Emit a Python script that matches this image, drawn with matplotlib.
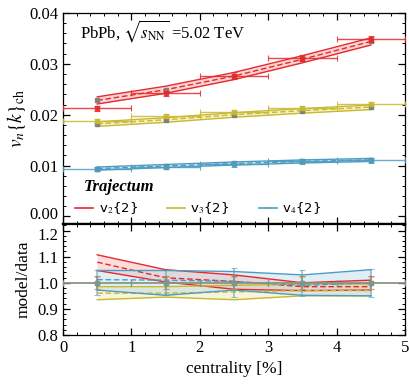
import matplotlib
matplotlib.use("Agg")
import matplotlib.pyplot as plt
import matplotlib.transforms as mtransforms
from matplotlib.ticker import MultipleLocator
from matplotlib.lines import Line2D

plt.rcParams['font.family'] = ['Liberation Serif', 'DejaVu Serif']
plt.rcParams['mathtext.fontset'] = 'stix'

# ---- data ----
cent = [0.5, 1.5, 2.5, 3.5, 4.5]
cent_halfwidth = [0.5, 0.5, 0.5, 0.5, 0.5]

v2_data = [0.0213, 0.0242, 0.0277, 0.0312, 0.0348]
v2_err = [0.0005, 0.0005, 0.0006, 0.0006, 0.0006]
v2_model = [0.0228, 0.0249, 0.0276, 0.0309, 0.0344]
v2_lo = [0.0221, 0.0242, 0.0269, 0.0302, 0.0337]
v2_hi = [0.0235, 0.0256, 0.0283, 0.0316, 0.0351]

v3_data = [0.0187, 0.0198, 0.0205, 0.0214, 0.0221]
v3_err = [0.0004, 0.0004, 0.0004, 0.0004, 0.0004]
v3_model = [0.0182, 0.0190, 0.0200, 0.0208, 0.0215]
v3_lo = [0.0177, 0.0185, 0.0195, 0.0203, 0.0210]
v3_hi = [0.0186, 0.0194, 0.0204, 0.0212, 0.0219]

v4_data = [0.0094, 0.0097, 0.0103, 0.0108, 0.0110]
v4_err = [0.0004, 0.0004, 0.0005, 0.0005, 0.0005]
v4_model = [0.0094, 0.0099, 0.0104, 0.0108, 0.0111]
v4_lo = [0.0091, 0.0096, 0.0101, 0.0105, 0.0108]
v4_hi = [0.0097, 0.0102, 0.0107, 0.0111, 0.0114]

r2_mid = [1.079, 1.019, 1.005, 0.985, 0.985]
r2_hi = [1.107, 1.050, 1.030, 1.000, 1.010]
r2_lo = [1.047, 1.003, 0.975, 0.970, 0.972]
r2_derr = [0.025, 0.025, 0.025, 0.025, 0.025]

r3_mid = [0.960, 0.960, 0.965, 0.970, 0.970]
r3_hi = [0.985, 0.985, 0.990, 0.995, 0.995]
r3_lo = [0.935, 0.945, 0.935, 0.950, 0.950]
r3_derr = [0.022, 0.022, 0.022, 0.022, 0.022]

r4_mid = [1.012, 1.010, 1.005, 0.990, 1.000]
r4_hi = [1.047, 1.047, 1.043, 1.030, 1.050]
r4_lo = [0.972, 0.952, 0.972, 0.952, 0.950]
r4_derr = [0.048, 0.048, 0.056, 0.050, 0.053]

labels = [r'v$_2${2}', r'v$_3${2}', r'v$_4${2}']
colors = ['#E8282B', '#C8B92E', '#4E9CC2']
fills = ['#F4A0A0', '#EAE29A', '#A8D0E4']

fig = plt.figure(figsize=(4.10, 3.84), dpi=100)
ax1 = fig.add_axes([0.1537, 0.4167, 0.8341, 0.5495])
ax2 = fig.add_axes([0.1537, 0.1276, 0.8341, 0.2891])

top_sets = [(v2_data, v2_err, v2_model, v2_lo, v2_hi),
            (v3_data, v3_err, v3_model, v3_lo, v3_hi),
            (v4_data, v4_err, v4_model, v4_lo, v4_hi)]
for (d, e, m, lo, hi), c, f in zip(top_sets, colors, fills):
    ax1.fill_between(cent, lo, hi, color=f, alpha=0.45, lw=0, zorder=1)
    ax1.plot(cent, lo, color=c, lw=1.0, zorder=2)
    ax1.plot(cent, hi, color=c, lw=1.0, zorder=2)
    ax1.plot(cent, m, color=c, lw=1.0, ls=(0, (4, 2)), zorder=2)
    ax1.errorbar(cent, m, yerr=[0.0002]*5, fmt='s', ms=2.5, color='#808080',
                 ecolor='#808080', elinewidth=0.8, capsize=1.5, zorder=3)
    ax1.errorbar(cent, d, xerr=cent_halfwidth, yerr=e, fmt='s', ms=3,
                 color=c, ecolor=c, elinewidth=1.0, capsize=2, capthick=0.8,
                 alpha=0.85, zorder=4)

ax1.set_xlim(0, 5)
ax1.set_ylim(-0.0015, 0.04)
ax1.yaxis.set_major_locator(MultipleLocator(0.01))
ax1.yaxis.set_minor_locator(MultipleLocator(0.002))
ax1.set_yticks([0.0, 0.01, 0.02, 0.03, 0.04])
ax1.set_yticklabels(['0.00', '0.01', '0.02', '0.03', '0.04'])
ax1.set_ylabel(r'$v_n\{k\}_{\rm ch}$', fontsize=14, labelpad=1)

ax1.text(0.05, 0.915, r'PbPb, $\sqrt{s_{\rm NN}}$ =5.02 TeV', transform=ax1.transAxes,
         fontsize=12, va='center', ha='left')
ax1.text(0.06, 0.175, 'Trajectum', transform=ax1.transAxes, fontsize=12,
         fontweight='bold', fontstyle='italic', va='center', ha='left')

handles = [Line2D([0], [0], color=c, lw=1.2) for c in colors]
leg = ax1.legend(handles, labels, loc='lower left', bbox_to_anchor=(0.0, -0.02),
                 ncol=3, frameon=False, handlelength=1.4,
                 handletextpad=0.4, columnspacing=2.2,
                 prop={'family': 'DejaVu Sans', 'size': 9.5})

ratio_sets = [(r2_mid, r2_lo, r2_hi, r2_derr),
              (r3_mid, r3_lo, r3_hi, r3_derr),
              (r4_mid, r4_lo, r4_hi, r4_derr)]
for (m, lo, hi, de), c, f in zip(ratio_sets, colors, fills):
    ax2.fill_between(cent, lo, hi, color=f, alpha=0.35, lw=0, zorder=1)
    ax2.plot(cent, lo, color=c, lw=1.0, zorder=2)
    ax2.plot(cent, hi, color=c, lw=1.0, zorder=2)
    ax2.plot(cent, m, color=c, lw=1.0, ls=(0, (4, 2)), zorder=2)
for (m, lo, hi, de), c in zip(ratio_sets, colors):
    ax2.errorbar(cent, [1.0]*5, xerr=cent_halfwidth, yerr=de, fmt='s', ms=3,
                 color=c, ecolor=c, elinewidth=1.2, capsize=2, capthick=0.8,
                 alpha=0.6, zorder=4)

ax2.set_xlim(0, 5)
ax2.set_ylim(0.8, 1.225)
ax2.set_yticks([0.8, 0.9, 1.0, 1.1, 1.2])
ax2.set_yticklabels(['0.8', '0.9', '1.0', '1.1', '1.2'])
ax2.yaxis.set_minor_locator(MultipleLocator(0.02))
ax2.set_ylabel('model/data', fontsize=12.5, labelpad=4)
ax2.set_xlabel('centrality [%]', fontsize=12.5, labelpad=4)
ax1.tick_params(labelbottom=False)

for ax in (ax1, ax2):
    ax.xaxis.set_major_locator(MultipleLocator(1))
    ax.xaxis.set_minor_locator(MultipleLocator(0.2))
    ax.tick_params(which='both', direction='in', top=True, right=True,
                   labelsize=12)
    ax.tick_params(which='major', length=5, width=0.9)
    ax.tick_params(which='minor', length=2.5, width=0.7)
    for s in ax.spines.values():
        s.set_linewidth(0.9)
ax1.spines['bottom'].set_linewidth(1.6)
ax2.spines['top'].set_linewidth(1.6)

# nudge the touching labels at the panel junction apart slightly
up = mtransforms.ScaledTranslation(0, 2.5/72, fig.dpi_scale_trans)
down = mtransforms.ScaledTranslation(0, -2.5/72, fig.dpi_scale_trans)
lab0 = ax1.get_yticklabels()[0]
lab0.set_transform(lab0.get_transform() + up)
labtop = ax2.get_yticklabels()[-1]
labtop.set_transform(labtop.get_transform() + down)

fig.savefig('out.png', dpi=100)
